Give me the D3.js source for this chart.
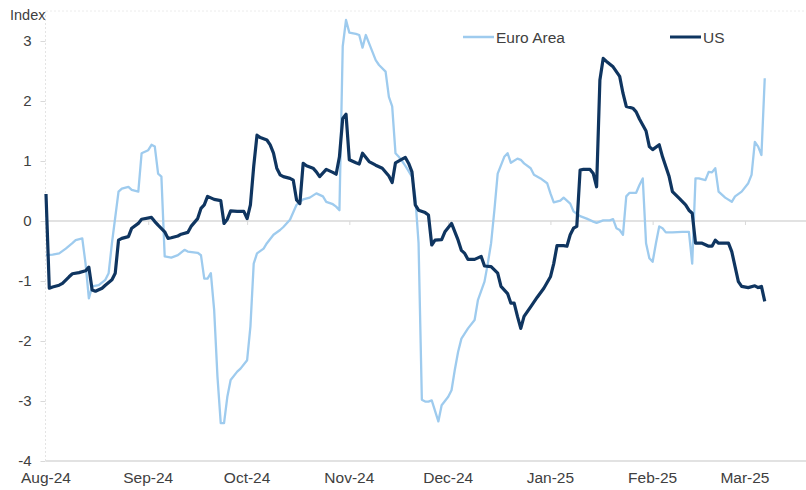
<!DOCTYPE html>
<html>
<head>
<meta charset="utf-8">
<script src="https://cdn.jsdelivr.net/npm/d3@7"></script>
<style>
  body { margin: 0; background: #fff; }
  svg { display: block; font-family: "Liberation Sans", Arial, sans-serif; }
</style>
</head>
<body>
<div id="chart"></div>
<script>
// Data (daily index, Aug-24 to Mar-25)

var euroDates = ["2024-08-01","2024-08-03","2024-08-05","2024-08-07","2024-08-09","2024-08-10","2024-08-12","2024-08-13","2024-08-14","2024-08-15",
  "2024-08-17","2024-08-19","2024-08-20","2024-08-21","2024-08-23","2024-08-24","2024-08-26","2024-08-27","2024-08-29","2024-08-30",
  "2024-09-01","2024-09-02","2024-09-03","2024-09-04","2024-09-05","2024-09-06","2024-09-08","2024-09-10","2024-09-12","2024-09-13",
  "2024-09-16","2024-09-17","2024-09-18","2024-09-19","2024-09-20","2024-09-21","2024-09-22","2024-09-23","2024-09-24","2024-09-25",
  "2024-09-26","2024-09-28","2024-09-29","2024-10-01","2024-10-02","2024-10-03","2024-10-04","2024-10-06","2024-10-07","2024-10-09",
  "2024-10-11","2024-10-12","2024-10-14","2024-10-16","2024-10-18","2024-10-20","2024-10-22","2024-10-24","2024-10-25","2024-10-27",
  "2024-10-28","2024-10-29","2024-10-30","2024-10-31","2024-11-01","2024-11-03","2024-11-04","2024-11-05","2024-11-06","2024-11-07",
  "2024-11-09","2024-11-10","2024-11-12","2024-11-13","2024-11-14","2024-11-15","2024-11-16","2024-11-17","2024-11-18","2024-11-20",
  "2024-11-21","2024-11-22","2024-11-23","2024-11-24","2024-11-25","2024-11-26","2024-11-28","2024-11-29","2024-12-01","2024-12-02",
  "2024-12-03","2024-12-04","2024-12-05","2024-12-07","2024-12-09","2024-12-10","2024-12-12","2024-12-13","2024-12-14","2024-12-15",
  "2024-12-16","2024-12-18","2024-12-19","2024-12-20","2024-12-22","2024-12-23","2024-12-24","2024-12-26","2024-12-27","2024-12-29",
  "2024-12-31","2025-01-01","2025-01-02","2025-01-04","2025-01-05","2025-01-07","2025-01-08","2025-01-10","2025-01-12","2025-01-14",
  "2025-01-15","2025-01-17","2025-01-19","2025-01-20","2025-01-21","2025-01-22","2025-01-23","2025-01-24","2025-01-25","2025-01-27",
  "2025-01-28","2025-01-29","2025-01-30","2025-01-31","2025-02-01","2025-02-02","2025-02-03","2025-02-04","2025-02-05","2025-02-07",
  "2025-02-10","2025-02-12","2025-02-13","2025-02-14","2025-02-15","2025-02-17","2025-02-18","2025-02-19","2025-02-20","2025-02-21",
  "2025-02-23","2025-02-25","2025-02-26","2025-02-28","2025-03-02","2025-03-03","2025-03-04","2025-03-05","2025-03-06","2025-03-07"];

var euroValues = [-0.57,-0.56,-0.54,-0.46,-0.37,-0.32,-0.29,-0.71,-1.29,-1.09,
  -1.07,-0.98,-0.87,-0.37,0.49,0.54,0.57,0.52,0.49,1.13,
  1.18,1.27,1.24,0.79,0.74,-0.59,-0.61,-0.57,-0.48,-0.51,
  -0.53,-0.57,-0.96,-0.96,-0.87,-1.48,-2.59,-3.37,-3.37,-2.93,
  -2.65,-2.51,-2.46,-2.32,-1.76,-0.71,-0.54,-0.46,-0.37,-0.23,
  -0.15,-0.10,0.02,0.27,0.36,0.39,0.46,0.41,0.32,0.28,
  0.24,0.18,2.91,3.35,3.14,3.12,3.10,2.89,3.10,2.96,
  2.68,2.60,2.49,2.07,1.91,1.13,1.07,1.00,0.92,0.74,
  0.41,-0.37,-2.98,-3.01,-3.01,-2.99,-3.34,-3.07,-2.93,-2.82,
  -2.48,-2.18,-1.96,-1.79,-1.65,-1.32,-1.01,-0.71,-0.37,0.18,
  0.79,1.07,1.13,0.97,1.04,1.02,0.96,0.88,0.77,0.71,
  0.63,0.46,0.31,0.34,0.39,0.29,0.16,0.08,0.04,-0.01,
  -0.03,0.01,0.01,0.03,-0.12,-0.15,-0.23,0.41,0.47,0.47,
  0.60,0.71,-0.37,-0.62,-0.68,-0.37,-0.09,-0.12,-0.19,-0.19,
  -0.18,-0.18,-0.71,0.71,0.71,0.68,0.82,0.81,0.88,0.49,
  0.39,0.32,0.41,0.49,0.63,0.77,1.32,1.24,1.10,2.38];

var usDates = ["2024-08-01","2024-08-02","2024-08-03","2024-08-05","2024-08-06","2024-08-08","2024-08-09","2024-08-11","2024-08-13","2024-08-14",
  "2024-08-15","2024-08-16","2024-08-18","2024-08-19","2024-08-21","2024-08-22","2024-08-23","2024-08-24","2024-08-26","2024-08-27",
  "2024-08-29","2024-08-30","2024-09-02","2024-09-03","2024-09-04","2024-09-06","2024-09-07","2024-09-08","2024-09-10","2024-09-11",
  "2024-09-13","2024-09-14","2024-09-16","2024-09-17","2024-09-18","2024-09-19","2024-09-21","2024-09-23","2024-09-24","2024-09-25",
  "2024-09-26","2024-09-28","2024-09-30","2024-10-01","2024-10-02","2024-10-03","2024-10-04","2024-10-05","2024-10-07","2024-10-08",
  "2024-10-09","2024-10-10","2024-10-11","2024-10-12","2024-10-14","2024-10-15","2024-10-16","2024-10-17","2024-10-18","2024-10-19",
  "2024-10-21","2024-10-22","2024-10-23","2024-10-25","2024-10-27","2024-10-28","2024-10-29","2024-10-30","2024-10-31","2024-11-01",
  "2024-11-03","2024-11-04","2024-11-05","2024-11-07","2024-11-09","2024-11-11","2024-11-13","2024-11-14","2024-11-15","2024-11-17",
  "2024-11-18","2024-11-19","2024-11-20","2024-11-21","2024-11-22","2024-11-24","2024-11-25","2024-11-26","2024-11-27","2024-11-29",
  "2024-11-30","2024-12-02","2024-12-04","2024-12-05","2024-12-06","2024-12-07","2024-12-09","2024-12-11","2024-12-12","2024-12-14",
  "2024-12-16","2024-12-17","2024-12-19","2024-12-20","2024-12-21","2024-12-22","2024-12-23","2024-12-24","2024-12-26","2024-12-28",
  "2024-12-30","2025-01-01","2025-01-02","2025-01-03","2025-01-05","2025-01-06","2025-01-07","2025-01-08","2025-01-09","2025-01-10",
  "2025-01-11","2025-01-13","2025-01-14","2025-01-15","2025-01-16","2025-01-17","2025-01-18","2025-01-20","2025-01-22","2025-01-23",
  "2025-01-24","2025-01-26","2025-01-27","2025-01-28","2025-01-30","2025-01-31","2025-02-01","2025-02-03","2025-02-04","2025-02-06",
  "2025-02-07","2025-02-09","2025-02-11","2025-02-12","2025-02-13","2025-02-14","2025-02-16","2025-02-18","2025-02-19","2025-02-20",
  "2025-02-21","2025-02-24","2025-02-25","2025-02-26","2025-02-27","2025-02-28","2025-03-02","2025-03-04","2025-03-05","2025-03-06",
  "2025-03-07"];

var usValues = [0.45,-1.12,-1.10,-1.07,-1.04,-0.93,-0.88,-0.86,-0.83,-0.77,
  -1.15,-1.17,-1.12,-1.07,-0.98,-0.87,-0.32,-0.29,-0.26,-0.12,
  -0.04,0.03,0.06,-0.01,-0.07,-0.18,-0.29,-0.28,-0.25,-0.22,
  -0.19,-0.09,0.04,0.21,0.27,0.41,0.36,0.34,-0.04,0.03,
  0.17,0.16,0.16,0.04,0.27,0.91,1.43,1.39,1.35,1.27,
  1.13,0.88,0.77,0.74,0.71,0.68,0.35,0.29,0.96,0.92,
  0.88,0.82,0.74,0.86,0.81,0.78,1.07,1.71,1.78,1.02,
  0.97,0.95,1.13,0.99,0.93,0.88,0.75,0.64,0.97,1.03,
  1.06,0.96,0.82,0.27,0.18,0.14,0.10,-0.40,-0.32,-0.31,
  -0.18,-0.04,-0.32,-0.49,-0.54,-0.64,-0.64,-0.59,-0.75,-0.76,
  -0.87,-1.09,-1.21,-1.37,-1.37,-1.59,-1.79,-1.59,-1.43,-1.27,
  -1.12,-0.93,-0.71,-0.41,-0.41,-0.42,-0.23,-0.12,-0.09,0.85,
  0.86,0.86,0.79,0.57,2.35,2.71,2.66,2.57,2.41,2.13,
  1.91,1.88,1.82,1.70,1.50,1.24,1.19,1.27,1.07,0.74,
  0.49,0.38,0.27,0.18,0.13,-0.37,-0.37,-0.42,-0.42,-0.32,
  -0.37,-0.37,-0.51,-0.76,-1.01,-1.09,-1.11,-1.08,-1.11,-1.09,
  -1.34];

// Axis ticks
var monthTicks = ["2024-08-01","2024-09-01","2024-10-01","2024-11-01","2024-12-01","2025-01-01","2025-02-01","2025-03-01"];
var yTicks = [-4, -3, -2, -1, 0, 1, 2, 3];

// Size and colours
var width = 806;
var height = 490;
var euroColor = "#9ecbee";
var usColor = "#0f3560";
var textColor = "#404040";
var gridColor = "#d9d9d9";

var parseDate = d3.utcParse("%Y-%m-%d");
var fmtMonth = d3.utcFormat("%b-%y");

var svg = d3.select("#chart")
  .append("svg")
  .attr("width", width)
  .attr("height", height);

// scales (calendar date axis, index from -4 to 3.5)
var x = d3.scaleUtc()
  .domain([parseDate("2024-08-01"), parseDate("2025-03-20")])
  .range([46, 807.6]);

var y = d3.scaleLinear()
  .domain([-4, 3.5])
  .range([461, 11]);

// faint frame at the top and left
svg.append("line")
  .attr("x1", 46).attr("x2", width)
  .attr("y1", y(3.5)).attr("y2", y(3.5))
  .attr("stroke", "#ececec")
  .attr("stroke-dasharray", "2,2");

svg.append("line")
  .attr("x1", 45.5).attr("x2", 45.5)
  .attr("y1", y(3.5)).attr("y2", y(-4))
  .attr("stroke", "#e4e4e4")
  .attr("stroke-dasharray", "2,2");

// y axis: ticks and labels (plain hyphen for negatives, as in the source)
var yAxis = svg.append("g")
  .attr("transform", "translate(45.5,0)")
  .call(d3.axisLeft(y).tickValues(yTicks).tickSize(5).tickPadding(9).tickFormat(function (d) { return String(d); }));

yAxis.select(".domain").remove();
yAxis.selectAll(".tick line").attr("stroke", gridColor);
yAxis.selectAll(".tick text")
  .attr("fill", textColor)
  .style("font-size", "15px")
  .style("font-family", "'Liberation Sans', Arial, sans-serif");

// zero line and bottom line
svg.append("line")
  .attr("x1", 46).attr("x2", width)
  .attr("y1", y(0)).attr("y2", y(0))
  .attr("stroke", gridColor)
  .attr("stroke-width", 1.5);

svg.append("line")
  .attr("x1", 46).attr("x2", width)
  .attr("y1", y(-4)).attr("y2", y(-4))
  .attr("stroke", gridColor)
  .attr("stroke-width", 1.5);

// month ticks sit on the zero line, labels at the bottom
var xAxis = svg.append("g")
  .attr("transform", "translate(0," + y(0) + ")")
  .call(d3.axisBottom(x).tickValues(monthTicks.map(parseDate)).tickSize(4).tickFormat(""));

xAxis.select(".domain").remove();
xAxis.selectAll(".tick line").attr("stroke", gridColor);

svg.selectAll(".month-label")
  .data(monthTicks)
  .enter()
  .append("text")
  .attr("class", "month-label")
  .attr("x", function (d) { return x(parseDate(d)); })
  .attr("y", 483)
  .attr("text-anchor", "middle")
  .attr("fill", textColor)
  .style("font-size", "15.5px")
  .text(function (d) { return fmtMonth(parseDate(d)); });

// axis title
svg.append("text")
  .attr("x", 10)
  .attr("y", 20)
  .attr("fill", textColor)
  .style("font-size", "14.5px")
  .text("Index");

// lines
var line = d3.line()
  .x(function (d) { return x(d.date); })
  .y(function (d) { return y(d.value); });

var euroData = euroDates.map(function (d, i) { return { date: parseDate(d), value: euroValues[i] }; });
var usData = usDates.map(function (d, i) { return { date: parseDate(d), value: usValues[i] }; });

svg.append("path")
  .datum(euroData)
  .attr("fill", "none")
  .attr("stroke", euroColor)
  .attr("stroke-width", 2.3)
  .attr("stroke-linejoin", "round")
  .attr("d", line);

svg.append("path")
  .datum(usData)
  .attr("fill", "none")
  .attr("stroke", usColor)
  .attr("stroke-width", 3.2)
  .attr("stroke-linejoin", "round")
  .attr("d", line);

// legend
var legendItems = [
  { name: "Euro Area", color: euroColor, width: 2.5, x: 463 },
  { name: "US", color: usColor, width: 3, x: 670 }
];

var legend = svg.selectAll(".legend")
  .data(legendItems)
  .enter()
  .append("g")
  .attr("class", "legend")
  .attr("transform", function (d) { return "translate(" + d.x + ",37)"; });

legend.append("line")
  .attr("x1", 0).attr("x2", 31)
  .attr("y1", 0).attr("y2", 0)
  .attr("stroke", function (d) { return d.color; })
  .attr("stroke-width", function (d) { return d.width; });

legend.append("text")
  .attr("x", 33)
  .attr("y", 5.5)
  .attr("fill", textColor)
  .style("font-size", "15.5px")
  .text(function (d) { return d.name; });
</script>
</body>
</html>
